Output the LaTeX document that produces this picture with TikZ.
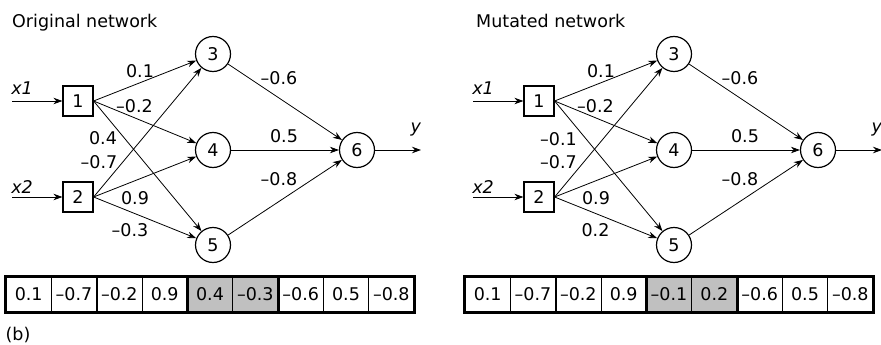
\documentclass[tikz,border=0pt]{standalone}
\usepackage{fontspec}
\setmainfont{DejaVu Sans}
\usetikzlibrary{arrows.meta}

\definecolor{cellgray}{RGB}{192,192,192}

\newcommand*{\shift}{461pt}

\begin{document}
\begin{tikzpicture}
[
	x=1pt,y=-1pt,
	font=\fontsize{17.5}{21}\selectfont,
	>={Stealth[length=9pt,width=6.5pt]},
	inbox/.style={draw,line width=1.2pt,minimum size=30pt,inner sep=0pt},
	neuron/.style={circle,draw,line width=1.2pt,minimum size=35pt,inner sep=0pt},
	wire/.style={->,line width=0.8pt},
	wt/.style={inner sep=0pt},
	cell/.style={draw,line width=0.8pt,minimum width=45.33pt,minimum height=35pt,inner sep=0pt},
	shaded/.style={cell,fill=cellgray},
	frame/.style={line width=2.6pt}
]
	\useasboundingbox (0,0) rectangle (881,345);

	% original network
	\node[wt,anchor=base west] at (12,28) (otitle) {Original network};

	\node[inbox] at (78,101) (o1) {1};
	\node[inbox] at (78,197) (o2) {2};
	\node[neuron] at (213,54) (o3) {3};
	\node[neuron] at (213,150) (o4) {4};
	\node[neuron] at (213,245) (o5) {5};
	\node[neuron] at (357,150) (o6) {6};

	\coordinate (ox1) at (12,101);
	\coordinate (ox2) at (12,197);
	\coordinate (oy) at (421,150);

	\draw[wire] (ox1) -- (o1);
	\draw[wire] (ox2) -- (o2);
	\draw[wire] (o6) -- (oy);
	\node[wt] at (22,88) (ox1l) {\textit{x1}};
	\node[wt] at (22,187) (ox2l) {\textit{x2}};
	\node[wt] at (416,130) (oyl) {\textit{y}};

	\draw[wire] (o1.east) -- (o3);
	\draw[wire] (o1.east) -- (o4);
	\draw[wire] (o1.east) -- (o5);
	\draw[wire] (o2.east) -- (o3);
	\draw[wire] (o2.east) -- (o4);
	\draw[wire] (o2.east) -- (o5);
	\draw[wire] (o3) -- (o6);
	\draw[wire] (o4) -- (o6);
	\draw[wire] (o5) -- (o6);

	\node[wt] at (140,71) (ow13) {0.1};
	\node[wt] at (134.5,106) (ow14) {--0.2};
	\node[wt] at (103,138) (ow15) {0.4};
	\node[wt] at (99,162) (ow23) {--0.7};
	\node[wt] at (135,198) (ow24) {0.9};
	\node[wt] at (130,230) (ow25) {--0.3};
	\node[wt] at (279,78) (ow36) {--0.6};
	\node[wt] at (284,136) (ow46) {0.5};
	\node[wt] at (279,179) (ow56) {--0.8};

	% mutated network
	\begin{scope}[xshift=\shift]
		\node[wt,anchor=base west] at (15,28) (mtitle) {Mutated network};

		\node[inbox] at (78,101) (m1) {1};
		\node[inbox] at (78,197) (m2) {2};
		\node[neuron] at (213,54) (m3) {3};
		\node[neuron] at (213,150) (m4) {4};
		\node[neuron] at (213,245) (m5) {5};
		\node[neuron] at (357,150) (m6) {6};

		\coordinate (mx1) at (12,101);
		\coordinate (mx2) at (12,197);
		\coordinate (my) at (421,150);

		\draw[wire] (mx1) -- (m1);
		\draw[wire] (mx2) -- (m2);
		\draw[wire] (m6) -- (my);
		\node[wt] at (22,88) (mx1l) {\textit{x1}};
		\node[wt] at (22,187) (mx2l) {\textit{x2}};
		\node[wt] at (416,130) (myl) {\textit{y}};

		\draw[wire] (m1.east) -- (m3);
		\draw[wire] (m1.east) -- (m4);
		\draw[wire] (m1.east) -- (m5);
		\draw[wire] (m2.east) -- (m3);
		\draw[wire] (m2.east) -- (m4);
		\draw[wire] (m2.east) -- (m5);
		\draw[wire] (m3) -- (m6);
		\draw[wire] (m4) -- (m6);
		\draw[wire] (m5) -- (m6);

		\node[wt] at (140,71) (mw13) {0.1};
		\node[wt] at (134.5,106) (mw14) {--0.2};
		\node[wt] at (97.5,139) (mw15) {--0.1};
		\node[wt] at (97.5,162) (mw23) {--0.7};
		\node[wt] at (135,198) (mw24) {0.9};
		\node[wt] at (134.5,230) (mw25) {0.2};
		\node[wt] at (279,78) (mw36) {--0.6};
		\node[wt] at (284,136) (mw46) {0.5};
		\node[wt] at (279,179) (mw56) {--0.8};
	\end{scope}

	% chromosome of the original network
	\node[cell] at (28.67,294.5) (oc1) {0.1};
	\node[cell] at (74,294.5) (oc2) {--0.7};
	\node[cell] at (119.33,294.5) (oc3) {--0.2};
	\node[cell] at (164.67,294.5) (oc4) {0.9};
	\node[shaded] at (210,294.5) (oc5) {0.4};
	\node[shaded] at (255.33,294.5) (oc6) {--0.3};
	\node[cell] at (300.67,294.5) (oc7) {--0.6};
	\node[cell] at (346,294.5) (oc8) {0.5};
	\node[cell] at (391.33,294.5) (oc9) {--0.8};

	\draw[frame] (oc1.north west) rectangle (oc9.south east);
	\draw[frame] (oc2.north east) -- (oc2.south east);
	\draw[frame] (oc4.north east) -- (oc4.south east);
	\draw[frame] (oc6.north east) -- (oc6.south east);

	% chromosome of the mutated network
	\node[cell] at (487.67,294.5) (mc1) {0.1};
	\node[cell] at (533,294.5) (mc2) {--0.7};
	\node[cell] at (578.33,294.5) (mc3) {--0.2};
	\node[cell] at (623.67,294.5) (mc4) {0.9};
	\node[shaded] at (669,294.5) (mc5) {--0.1};
	\node[shaded] at (714.33,294.5) (mc6) {0.2};
	\node[cell] at (759.67,294.5) (mc7) {--0.6};
	\node[cell] at (805,294.5) (mc8) {0.5};
	\node[cell] at (850.33,294.5) (mc9) {--0.8};

	\draw[frame] (mc1.north west) rectangle (mc9.south east);
	\draw[frame] (mc2.north east) -- (mc2.south east);
	\draw[frame] (mc4.north east) -- (mc4.south east);
	\draw[frame] (mc6.north east) -- (mc6.south east);

	\node[wt] at (18,335) (caption) {(b)};

\end{tikzpicture}
\end{document}
